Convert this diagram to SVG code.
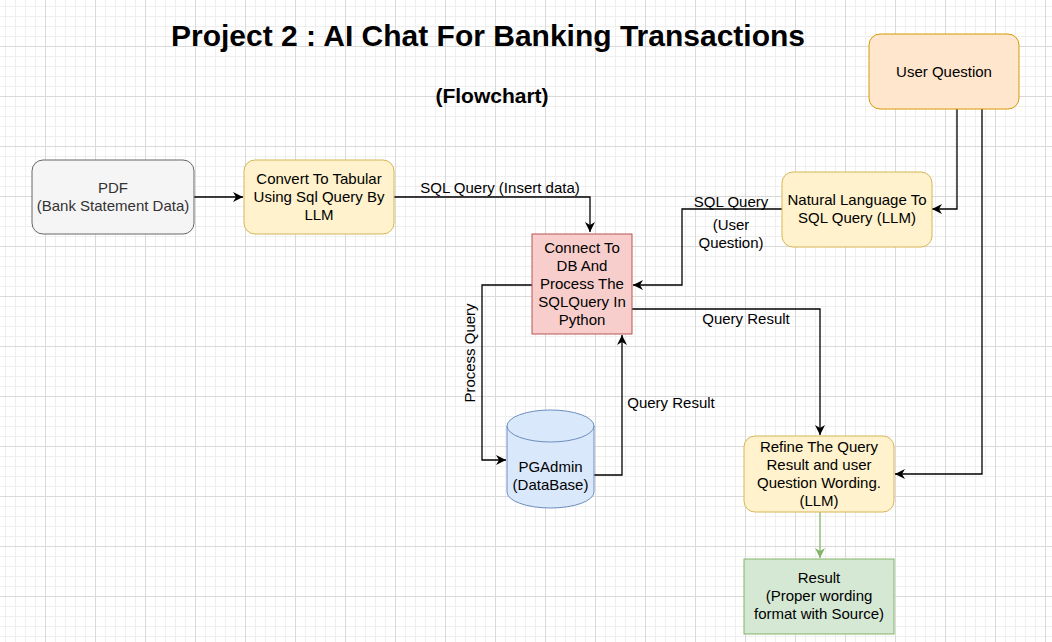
<svg xmlns="http://www.w3.org/2000/svg" width="1052" height="642" viewBox="0 0 1052 642">
<defs>
<pattern id="grid" width="50" height="50" patternUnits="userSpaceOnUse" x="45" y="46">
<rect width="50" height="50" fill="#ffffff"/>
<g fill="#efefef">
<rect x="10" y="0" width="1" height="50"/><rect x="20" y="0" width="1" height="50"/><rect x="30" y="0" width="1" height="50"/><rect x="40" y="0" width="1" height="50"/>
<rect x="0" y="10" width="50" height="1"/><rect x="0" y="20" width="50" height="1"/><rect x="0" y="30" width="50" height="1"/><rect x="0" y="40" width="50" height="1"/>
</g>
<g fill="#dadada"><rect x="0" y="0" width="1" height="50"/><rect x="0" y="0" width="50" height="1"/></g>
</pattern>
<marker id="arr" markerUnits="userSpaceOnUse" markerWidth="12" markerHeight="12" refX="10" refY="5" orient="auto" viewBox="0 0 12 10">
<path d="M0,0 L10,5 L0,10 L3,5 Z" fill="#000"/>
</marker>
<marker id="arrG" markerUnits="userSpaceOnUse" markerWidth="12" markerHeight="12" refX="10" refY="5" orient="auto" viewBox="0 0 12 10">
<path d="M0,0 L10,5 L0,10 L3,5 Z" fill="#82b366"/>
</marker>
</defs>
<style>
text{font-family:"Liberation Sans",Arial,sans-serif;font-size:15px;fill:#000;text-anchor:middle}
.title{font-weight:bold;font-size:30px}
.sub{font-weight:bold;font-size:21px}
.edge{fill:none;stroke:#000;stroke-width:1.3;marker-end:url(#arr)}
.yel{fill:#fff2cc;stroke:#d6b656;stroke-width:1}
</style>
<rect width="1052" height="642" fill="url(#grid)"/>
<g id="title">
<text class="title" x="488" y="46">Project 2 : AI Chat For Banking Transactions</text>
<text class="sub" x="492" y="103">(Flowchart)</text>
</g>
<g id="connectors">
<path class="edge" d="M194,197 L243,197"/>
<path class="edge" d="M394,197 L590,197 L590,232"/>
<path class="edge" d="M782,209 L682,209 L682,285 L633,285"/>
<path class="edge" d="M957,109 L957,209 L932,209"/>
<path class="edge" d="M982,109 L982,474 L895,474"/>
<path class="edge" d="M632,309 L820,309 L820,435"/>
<path class="edge" d="M532,285 L482,285 L482,460 L506,460"/>
<path class="edge" d="M594,475 L622,475 L622,335"/>
<path class="edge" d="M820,512 L820,558" style="stroke:#82b366;marker-end:url(#arrG)"/>
<text x="500" y="193">SQL Query (Insert data)</text>
<text x="731" y="207">SQL Query</text>
<text x="731" y="230">(User</text>
<text x="731" y="248">Question)</text>
<text x="746" y="324">Query Result</text>
<text x="671" y="408">Query Result</text>
<text transform="translate(475,353) rotate(-90)">Process Query</text>
</g>
<g id="pdf">
<rect x="32" y="160" width="162" height="74" rx="11" fill="#f5f5f5" stroke="#666666"/>
<text x="113" y="193" style="fill:#333">PDF</text>
<text x="113" y="211" style="fill:#333">(Bank Statement Data)</text>
</g>
<g id="convert">
<rect class="yel" x="244" y="160" width="150" height="74" rx="11"/>
<text x="319" y="184">Convert To Tabular</text>
<text x="319" y="202">Using Sql Query By</text>
<text x="319" y="220">LLM</text>
</g>
<g id="connect">
<rect x="532" y="234" width="100" height="100" fill="#f8cecc" stroke="#b85450"/>
<text x="582" y="253">Connect To</text>
<text x="582" y="271">DB And</text>
<text x="582" y="289">Process The</text>
<text x="582" y="307">SQLQuery In</text>
<text x="582" y="325">Python</text>
</g>
<g id="userq">
<rect x="869" y="34" width="150" height="75" rx="11" fill="#ffe6cc" stroke="#d79b00"/>
<text x="944" y="77">User Question</text>
</g>
<g id="nl">
<rect class="yel" x="782" y="172" width="150" height="75" rx="11"/>
<text x="857" y="205">Natural Language To</text>
<text x="857" y="223">SQL Query (LLM)</text>
</g>
<g id="pgadmin">
<path d="M507,426 A43.5,16 0 0 1 594,426 L594,492 A43.5,16 0 0 1 507,492 Z" fill="#dae8fc" stroke="#6c8ebf"/>
<path d="M507,426 A43.5,16 0 0 0 594,426" fill="none" stroke="#6c8ebf"/>
<text x="550.5" y="472">PGAdmin</text>
<text x="550.5" y="490">(DataBase)</text>
</g>
<g id="refine">
<rect class="yel" x="744" y="436" width="150" height="76" rx="11"/>
<text x="819" y="452">Refine The Query</text>
<text x="819" y="470">Result and user</text>
<text x="819" y="488">Question Wording.</text>
<text x="819" y="506">(LLM)</text>
</g>
<g id="result">
<rect x="744" y="559" width="150" height="75" fill="#d5e8d4" stroke="#82b366"/>
<text x="819" y="583">Result</text>
<text x="819" y="601">(Proper wording</text>
<text x="819" y="619">format with Source)</text>
</g>
</svg>
